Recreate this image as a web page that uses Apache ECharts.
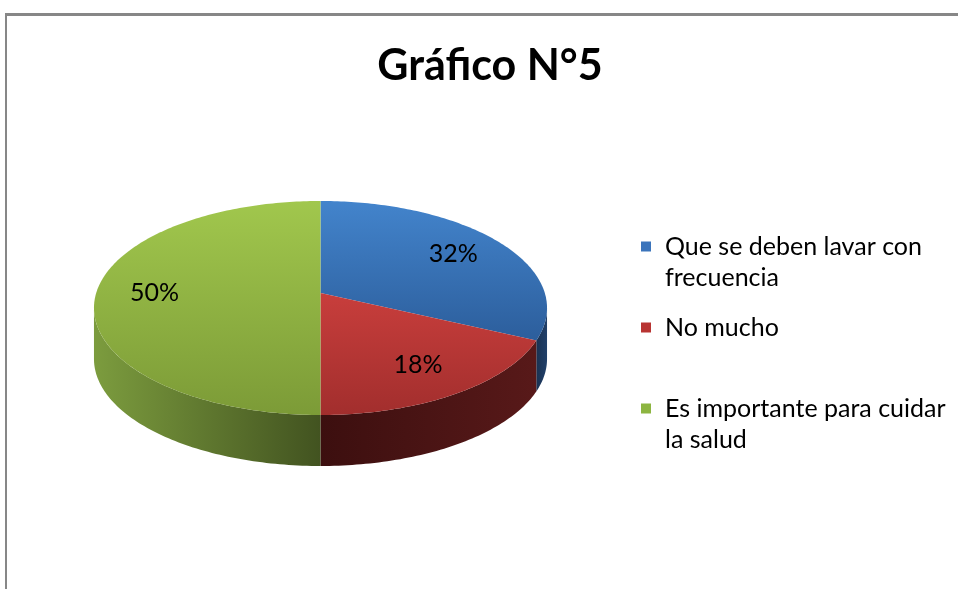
<!DOCTYPE html>
<html>
<head>
<meta charset="utf-8">
<script src="https://cdn.jsdelivr.net/npm/echarts@6/dist/echarts.min.js"></script>
</head>
<body style="margin:0;background:#fff">
<div id="main" style="width:958px;height:589px;"></div>
<script>
var categories = ['Que se deben lavar con frecuencia', 'No mucho', 'Es importante para cuidar la salud'];
var legendLines = [['Que se deben lavar con', 'frecuencia'], ['No mucho'], ['Es importante para cuidar', 'la salud']];
var values = [32, 18, 50];
var percentLabels = ['32%', '18%', '50%'];

var topColors = [['#4384cc', '#2c5e9c'], ['#c83e3c', '#a22e2d'], ['#a1c74d', '#7c9b37']];
var sideColors = [['#1a3252', '#21406a'], ['#3c0f0f', '#581919'], ['#7c9c3e', '#425320']];
var legendColors = ['#3b74bb', '#b83432', '#8db541'];

var FONT = 'Lato, "Open Sans", sans-serif';
// pie top seen in perspective: centre, half axes, perspective factor, thickness
var cx = 320.5, cy = 293, a = 224.3, b = 104.9, k = 0.14, depth = 51;

var myChart = echarts.init(document.getElementById('main'));

function pt(deg, dy, f) {
    var r = deg * Math.PI / 180;
    var X = f * Math.sin(r), Y = f * Math.cos(r);
    var d = 1 + k * Y;
    return [cx + a * X / d, cy - b * Y / d + dy];
}
function arc(a0, a1, dy) {
    var pts = [];
    var n = Math.max(2, Math.ceil(Math.abs(a1 - a0)));
    for (var j = 0; j <= n; j++) {
        pts.push(pt(a0 + (a1 - a0) * j / n, dy, 1));
    }
    return pts;
}
function grad(c, horizontal) {
    return {
        type: 'linear', x: 0, y: 0, x2: horizontal ? 1 : 0, y2: horizontal ? 0 : 1,
        colorStops: [{offset: 0, color: c[0]}, {offset: 1, color: c[1]}]
    };
}

// silhouette of the wall: where the rim is widest
var edge = Math.acos(-k) * 180 / Math.PI;

function makeRender(i) {
    return function (params, api) {
        var total = 0, start = 0;
        for (var j = 0; j < values.length; j++) {
            total += values[j];
            if (j < i) start += values[j];
        }
        var a0 = start / total * 360;
        var a1 = (start + api.value(0)) / total * 360;
        var children = [];
        // visible outer wall (front part)
        var s0 = Math.max(a0, edge), s1 = Math.min(a1, 360 - edge);
        if (s1 > s0) {
            children.push({
                type: 'polygon',
                shape: {points: arc(s0, s1, 0).concat(arc(s1, s0, depth))},
                style: {fill: grad(sideColors[i], true)}
            });
        }
        children.push({
            type: 'polygon',
            shape: {points: [[cx, cy]].concat(arc(a0, a1, 0))},
            style: {fill: grad(topColors[i], false)}
        });
        var p = pt((a0 + a1) / 2, 0, 0.74);
        children.push({
            type: 'text',
            x: p[0],
            y: p[1],
            style: {
                text: percentLabels[i], fill: '#000', font: '25px ' + FONT,
                align: 'center', verticalAlign: 'middle'
            }
        });
        return {type: 'group', children: children};
    };
}

var series = categories.map(function (name, i) {
    return {
        type: 'custom',
        name: name,
        coordinateSystem: 'none',
        itemStyle: {color: legendColors[i]},
        renderItem: makeRender(i),
        data: [[values[i]]],
        animation: false
    };
});

var option = {
    backgroundColor: '#fff',
    title: {
        text: 'Gráfico N°5',
        left: 485,
        top: 40,
        textAlign: 'center',
        textStyle: {fontFamily: FONT, fontSize: 43, fontWeight: 'bold', color: '#000'}
    },
    legend: {
        orient: 'vertical',
        left: 641,
        top: 200,
        padding: 0,
        itemGap: 19,
        icon: 'rect',
        itemWidth: 10,
        itemHeight: 10,
        selectedMode: false,
        data: categories,
        formatter: function (name) {
            var lines = legendLines[categories.indexOf(name)];
            return lines.length > 1 ? '\n' + lines.join('\n') : lines[0];
        },
        textStyle: {fontFamily: FONT, fontSize: 25, lineHeight: 31, color: '#000', padding: [0, 0, 0, 9]}
    },
    graphic: [
        {type: 'rect', shape: {x: 5, y: 13, width: 953, height: 3}, style: {fill: '#878787'}},
        {type: 'rect', shape: {x: 5, y: 13, width: 2, height: 576}, style: {fill: '#878787'}}
    ],
    series: series
};
myChart.setOption(option);
</script>
</body>
</html>
